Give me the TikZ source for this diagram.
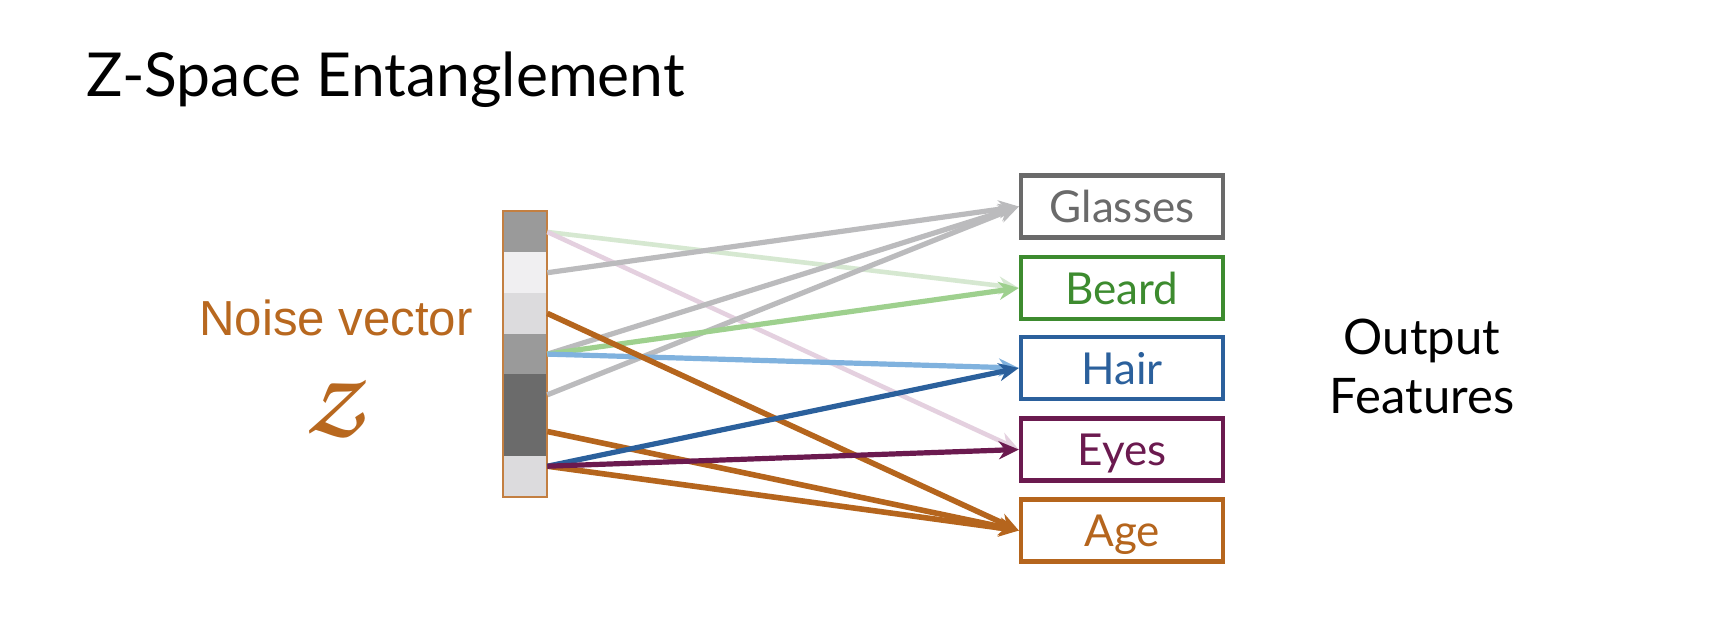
\documentclass[tikz,border=0pt]{standalone}
\usepackage{fontspec}
\setmainfont{Lato}
\newfontfamily\arialfont{Liberation Sans}
\usetikzlibrary{arrows.meta}
\definecolor{noiseOrange}{HTML}{B8681F}
\definecolor{glassGray}{HTML}{6A6A6A}
\definecolor{beardGreen}{HTML}{3D8B2F}
\definecolor{hairBlue}{HTML}{2B609C}
\definecolor{eyePurple}{HTML}{6B1A4F}
\definecolor{ageOrange}{HTML}{B5651D}
\definecolor{linkGray}{HTML}{BBBBBD}
\definecolor{linkGreen}{HTML}{9ED08E}
\definecolor{fadeGreen}{HTML}{D6E8D1}
\definecolor{fadePink}{HTML}{E4D0DF}
\definecolor{linkBlue}{HTML}{80B2DE}
\definecolor{cellMid}{HTML}{9A9A9A}
\definecolor{cellPale}{HTML}{F0EFF1}
\definecolor{cellLight}{HTML}{DCDBDD}
\definecolor{cellDark}{HTML}{6B6B6B}

\begin{document}
\begin{tikzpicture}[x=0.5pt,y=-0.5pt,
  feat/.style={draw=#1,text=#1,line width=2.2pt,minimum width=101pt,minimum height=31pt,
    inner sep=0pt,text height=16pt,text depth=0pt,font=\fontsize{22}{26}\selectfont},
  cell/.style={fill=#1,minimum width=22pt,minimum height=20.35pt,inner sep=0pt},
  link/.style={draw=#1,line width=2.6pt,-{Stealth[length=10pt,width=9pt]}}]
\fill[white] (0,0) rectangle (1734,642);
\useasboundingbox (0,0) rectangle (1734,642);

\node[anchor=base west,font=\fontsize{30.3}{36}\selectfont] (title) at (79,97) {Z-Space Entanglement};

\foreach \shade [count=\i] in {cellMid,cellPale,cellLight,cellMid,cellDark,cellDark,cellLight}
  \node[cell=\shade] (c\i) at (525,{232+40.7*(\i-1)}) {};
\draw[noiseOrange!85,line width=1pt] (c1.north west) rectangle (c7.south east);
\coordinate (c6out) at ([yshift=2pt]c6.east);
\coordinate (c7out) at ([yshift=5pt]c7.east);

\node[noiseOrange,inner sep=0pt,font=\arialfont\fontsize{24.6}{30}\selectfont] (noise) at (336,318) {Noise vector};
\node[noiseOrange,inner sep=0pt,font=\fontsize{66}{68}\usefont{OT1}{pzc}{m}{it}] (zvar) at (333,409) {z};

\node[feat=glassGray] (glasses) at (1122,206.5) {Glasses};
\node[feat=beardGreen] (beard) at (1122,288) {Beard};
\node[feat=hairBlue] (hair) at (1122,368) {Hair};
\node[feat=eyePurple] (eyes) at (1122,449.5) {Eyes};
\node[feat=ageOrange] (age) at (1122,530.5) {Age};

\node[align=center,font=\fontsize{24.5}{29.5}\selectfont] (output) at (1422,366) {Output\\Features};

\draw[link=fadeGreen,line width=2.3pt] (c1.east) -- (beard.west);
\draw[link=fadePink,line width=2.3pt] (c1.east) -- (eyes.west);
\draw[link=linkGray] (c2.east) -- (glasses.west);
\draw[link=linkGray] (c4.east) -- (glasses.west);
\draw[link=linkGray] (c5.east) -- (glasses.west);
\draw[link=linkGreen] (c4.east) -- (beard.west);
\draw[link=linkBlue] (c4.east) -- (hair.west);
\draw[link=ageOrange,line width=2.8pt] (c3.east) -- (age.west);
\draw[link=ageOrange,line width=2.8pt] (c6out) -- (age.west);
\draw[link=ageOrange,line width=2.8pt] (c7out) -- (age.west);
\draw[link=hairBlue] (c7out) -- (hair.west);
\draw[link=eyePurple] (c7out) -- (eyes.west);
\end{tikzpicture}
\end{document}
